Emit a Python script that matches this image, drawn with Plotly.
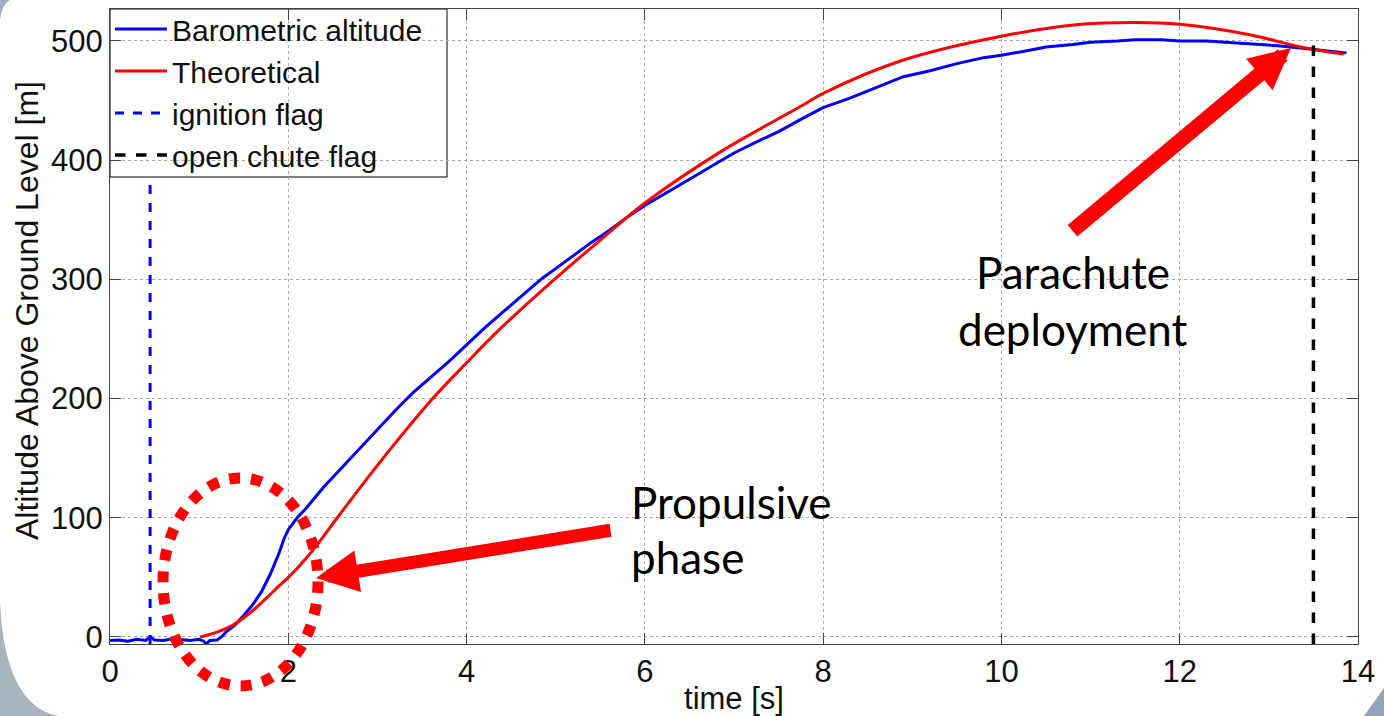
import plotly.graph_objects as go

# ---------------- data ----------------
baro_t = [0.0, 0.1, 0.2, 0.3, 0.4, 0.45, 0.5, 0.6, 0.7, 0.8, 0.9, 1.0, 1.05, 1.08, 1.12, 1.2, 1.25,
          1.3, 1.4, 1.5, 1.6, 1.7, 1.8, 1.9, 1.95, 2.0, 2.1, 2.2, 2.3, 2.4, 2.5, 2.6, 2.7, 2.8, 2.9,
          3.0, 3.2, 3.4, 3.6, 3.8, 4.0, 4.2, 4.4, 4.6, 4.85, 5.0, 5.2, 5.4, 5.6, 5.8, 6.0, 6.3,
          6.5, 6.8, 7.0, 7.3, 7.5, 7.77, 8.0, 8.3, 8.5, 8.9, 9.2, 9.5, 9.8, 10.0, 10.3, 10.5,
          10.8, 11.0, 11.3, 11.5, 11.8, 12.0, 12.3, 12.5, 12.8, 13.1, 13.35, 13.6, 13.87]
baro_alt = [-3, -2.5, -3.5, -2, -3, 0, -2.5, -3, -1.5, -2.5, -3, -2, -3.5, -6, -3, -2.5, 0,
            4, 10, 18, 27, 38, 53, 71, 82, 90, 100, 108, 117, 126, 134, 142, 150, 158, 166,
            174, 190, 205, 218, 231, 245, 259, 272, 285, 301, 309, 320, 331, 341, 352, 362, 375,
            384, 397, 406, 417, 424, 435, 444, 452, 458, 470, 475, 481, 486, 488, 492, 495,
            497, 499, 500, 501, 501, 500, 500, 499, 498, 496, 494, 492, 490]

theo_t = [1.01, 1.2, 1.38, 1.6, 1.76, 1.9, 2.0, 2.08, 2.2, 2.33, 2.55, 3.0, 3.62, 4.0, 4.37, 4.85,
          5.5, 6.0, 6.87, 7.77, 8.0, 8.9, 10.0, 10.9, 11.5, 12.0, 12.8, 13.35, 13.84]
theo_alt = [0, 4, 10, 22, 33, 43, 50, 56, 66, 78, 100, 144, 200, 230, 258, 291,
            333, 364, 408, 446, 456, 484, 504, 514, 515.5, 514, 505, 495, 489]

ignition_t = [0.45, 0.45]
ignition_alt = [-6, 382]
chute_t = [13.5, 13.5]
chute_alt = [-6, 502]

x_ticks = [0, 2, 4, 6, 8, 10, 12, 14]
y_ticks = [0, 100, 200, 300, 400, 500]

# ---------------- layout helpers (pixel -> paper) ----------------
W, H = 1384, 716
L, R, T, B = 110, 1358, 9, 644


def px(x):
    return (x - L) / (R - L)


def py(y):
    return (B - y) / (B - T)


AX_FONT = "Liberation Sans, Arial, sans-serif"
TXT_FONT = "Lato, sans-serif"

fig = go.Figure()
fig.add_trace(go.Scatter(x=baro_t, y=baro_alt, mode="lines", name="Barometric altitude",
                         line=dict(color="#0000ff", width=3)))
fig.add_trace(go.Scatter(x=theo_t, y=theo_alt, mode="lines", name="Theoretical",
                         line=dict(color="#ff0000", width=3, shape="spline")))
fig.add_trace(go.Scatter(x=ignition_t, y=ignition_alt, mode="lines", name="ignition flag",
                         line=dict(color="#0000ff", width=3, dash="dash")))
fig.add_trace(go.Scatter(x=chute_t, y=chute_alt, mode="lines", name="open chute flag",
                         line=dict(color="#000000", width=3.5, dash="dash")))

axis_common = dict(showline=True, linecolor="#444", linewidth=1, mirror="allticks",
                   ticks="inside", ticklen=11, tickcolor="#444", showgrid=True,
                   gridcolor="#aaa", griddash="dot", gridwidth=1, zeroline=False,
                   automargin=False,
                   tickfont=dict(family=AX_FONT, size=31, color="#111"))

fig.update_xaxes(range=[0, 14], tickvals=x_ticks, **axis_common,
                 title=dict(text="time [s]", font=dict(family=AX_FONT, size=31, color="#111"),
                            standoff=4))
fig.update_yaxes(range=[-5.9, 526.8], tickvals=y_ticks, **axis_common)

shapes = [
    # slide-frame corners
    dict(type="path", xref="paper", yref="paper", layer="below",
         path=f"M {px(0)},{py(600)} Q {px(4)},{py(705)} {px(58)},{py(716)} L {px(0)},{py(716)} Z",
         fillcolor="#a9b4bf", line=dict(width=0)),
    dict(type="path", xref="paper", yref="paper", layer="below",
         path=f"M {px(1384)},{py(688)} L {px(1384)},{py(716)} L {px(1364)},{py(716)} Z",
         fillcolor="#8fa3bb", line=dict(width=0)),
    dict(type="path", xref="paper", yref="paper", layer="below",
         path=f"M {px(0)},{py(20)} Q {px(2)},{py(4)} {px(10)},{py(0)} L {px(0)},{py(0)} Z",
         fillcolor="#9fb3c8", line=dict(width=0)),
    # legend box
    dict(type="rect", xref="paper", yref="paper", layer="between",
         x0=px(110), x1=px(447), y0=py(177), y1=py(9),
         fillcolor="white", line=dict(color="#000", width=1)),
    # dotted ellipse
    dict(type="circle", xref="paper", yref="paper", layer="above",
         x0=px(163), x1=px(318), y0=py(686), y1=py(478),
         line=dict(color="#ff0000", width=11, dash="11px,11px")),
]

annotations = [
    dict(xref="paper", yref="paper", x=px(27), y=py(311), text="Altitude Above Ground Level [m]",
         textangle=-90, showarrow=False, xanchor="center", yanchor="middle",
         font=dict(family=AX_FONT, size=32, color="#111")),
    dict(xref="paper", yref="paper", x=px(316), y=py(578), ax=296, ay=-48, text="",
         showarrow=True, arrowhead=2, arrowsize=0.65, arrowwidth=13, arrowcolor="#ff0000",
         standoff=0),
    dict(xref="paper", yref="paper", x=px(1291), y=py(48), ax=-220, ay=184, text="",
         showarrow=True, arrowhead=2, arrowsize=0.55, arrowwidth=15, arrowcolor="#ff0000",
         standoff=0),
    dict(xref="paper", yref="paper", x=px(629), y=py(502), text="Propulsive",
         showarrow=False, xanchor="left", yanchor="middle",
         font=dict(family=TXT_FONT, size=44, color="#000")),
    dict(xref="paper", yref="paper", x=px(629), y=py(557), text="phase",
         showarrow=False, xanchor="left", yanchor="middle",
         font=dict(family=TXT_FONT, size=44, color="#000")),
    dict(xref="paper", yref="paper", x=px(1073), y=py(272), text="Parachute",
         showarrow=False, xanchor="center", yanchor="middle",
         font=dict(family=TXT_FONT, size=44, color="#000")),
    dict(xref="paper", yref="paper", x=px(1073), y=py(329), text="deployment",
         showarrow=False, xanchor="center", yanchor="middle",
         font=dict(family=TXT_FONT, size=44, color="#000")),
]

fig.update_layout(
    width=W, height=H,
    margin=dict(l=L, r=W - R, t=T, b=H - B, autoexpand=False),
    paper_bgcolor="white", plot_bgcolor="white",
    showlegend=True,
    legend=dict(x=0, y=py(3), xanchor="left", yanchor="top", bgcolor="rgba(0,0,0,0)",
                borderwidth=0, itemwidth=52,
                font=dict(family=AX_FONT, size=30, color="#111"),
                tracegroupgap=0),
    shapes=shapes,
    annotations=annotations,
)

fig.write_html("out.html")
